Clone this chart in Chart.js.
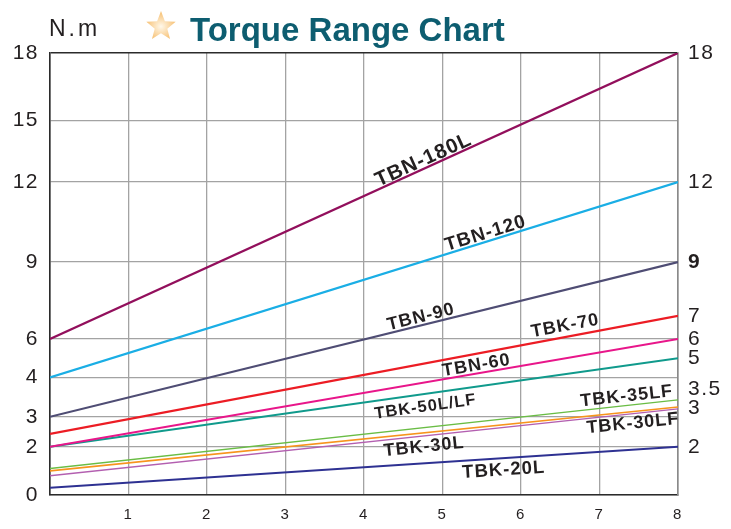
<!DOCTYPE html>
<html>
<head>
<meta charset="utf-8">
<script src="https://cdn.jsdelivr.net/npm/chart.js@4.4.0/dist/chart.umd.min.js"></script>
<style>
html,body{margin:0;padding:0;background:#fff;}
#wrap{position:relative;width:731px;height:529px;}
#unit{position:absolute;left:49px;top:17px;font:23px "Liberation Sans",Arial,sans-serif;letter-spacing:3px;color:#231f20;line-height:1;}
#star{position:absolute;left:144px;top:10px;}
#title{position:absolute;left:190px;top:13px;font:bold 33px "Liberation Sans",Arial,sans-serif;color:#0d5d70;line-height:1;white-space:nowrap;}
</style>
</head>
<body>
<div id="wrap">
<canvas id="c" width="731" height="529"></canvas>
<div id="unit">N.m</div>
<svg id="star" width="34" height="32" viewBox="0 0 30 29">
  <defs>
    <radialGradient id="sg" cx="50%" cy="55%" r="55%">
      <stop offset="0" stop-color="#fff8ea"/>
      <stop offset="1" stop-color="#f6bd6c"/>
    </radialGradient>
  </defs>
  <polygon fill="url(#sg)" points="15,1 18.5,10.2 28.3,10.7 20.7,16.9 23.2,26.3 15,21 6.8,26.3 9.3,16.9 1.7,10.7 11.5,10.2"/>
</svg>
<div id="title">Torque Range Chart</div>
</div>
<script>
// data
const xRange = [0, 8];
const xTicks = [1, 2, 3, 4, 5, 6, 7, 8];
const leftTicks = [0, 2, 3, 4, 6, 9, 12, 15, 18];
const rightTicks = [2, 3.22, 3.7, 5, 6, 6.9, 9, 12, 18];
const rightTickLabels = ['2', '3', '3.5', '5', '6', '7', '9', '12', '18'];

const models = ['TBN-180L', 'TBN-120', 'TBN-90', 'TBK-70', 'TBN-60', 'TBK-50L/LF', 'TBK-35LF', 'TBK-30LF', 'TBK-30L', 'TBK-20L'];
const startTorque = [6, 4, 3, 2.43, 2, 2, 1.1, 1.0, 0.8, 0.3];
const endTorque = [18, 12, 9, 6.9, 6, 5, 3.43, 3.25, 3.2, 2];

const lineColors = ['#920f5c', '#1aaee5', '#4f4d74', '#ec1c24', '#e8168a', '#109a8c', '#6abd45', '#f7941d', '#b35fb0', '#2e3192'];
const lineWidths = [2.3, 2.1, 2.1, 2.1, 2.1, 2.1, 1.4, 1.6, 1.4, 2.1];

// where each name sits: x value along its line, offset from line (px, + = below), font size
const labelSpots = [
    {at: 4.8, off: -8, size: 20.5}, {at: 5.58, off: -8, size: 19}, {at: 4.75, off: -8, size: 18},
    {at: 6.59, off: -11, size: 18}, {at: 5.45, off: -8, size: 18}, {at: 4.76, off: 13, size: 16.5},
    {at: 7.36, off: -9, size: 18}, {at: 7.41, off: 12, size: 18}, {at: 4.75, off: 11, size: 18},
    {at: 5.77, off: 12, size: 18.5}
];

// the torque axis is not even: each step gets its own share of the height
const axisStops = [0, 2, 3, 4, 6, 9, 12, 15, 18];
const axisShare = [0, 0.109, 0.177, 0.266, 0.353, 0.527, 0.708, 0.848, 1];

function toShare(v) {
    if (v <= axisStops[0]) return 0;
    for (let i = 1; i < axisStops.length; i++) {
        if (v <= axisStops[i]) {
            const t = (v - axisStops[i-1]) / (axisStops[i] - axisStops[i-1]);
            return axisShare[i-1] + t * (axisShare[i] - axisShare[i-1]);
        }
    }
    return 1;
}
function fromShare(f) {
    for (let i = 1; i < axisShare.length; i++) {
        if (f <= axisShare[i]) {
            const t = (f - axisShare[i-1]) / (axisShare[i] - axisShare[i-1]);
            return axisStops[i-1] + t * (axisStops[i] - axisStops[i-1]);
        }
    }
    return axisStops[axisStops.length-1];
}

class StepScale extends Chart.LinearScale {
    getPixelForValue(value) {
        return this.bottom - toShare(value) * (this.bottom - this.top);
    }
    getValueForPixel(pixel) {
        return fromShare((this.bottom - pixel) / (this.bottom - this.top));
    }
}
StepScale.id = 'step';
StepScale.defaults = Chart.LinearScale.defaults;
Chart.register(StepScale);

const datasets = models.map((m, i) => ({
    label: m,
    data: [{x: xRange[0], y: startTorque[i]}, {x: xRange[1], y: endTorque[i]}],
    borderColor: lineColors[i],
    borderWidth: lineWidths[i],
    pointRadius: 0,
    fill: false,
    yAxisID: 'y'
}));

// wider tracking for the axis numbers, like the print
const spacingPlugin = {
    id: 'spacing',
    beforeDraw(chart) { chart.ctx.letterSpacing = '1.5px'; },
    afterDraw(chart) { chart.ctx.letterSpacing = '0px'; }
};

const labelPlugin = {
    id: 'lineLabels',
    afterDatasetsDraw(chart) {
        const ctx = chart.ctx;
        const xs = chart.scales.x, ys = chart.scales.y;
        ctx.save();
        ctx.letterSpacing = '1px';
        ctx.fillStyle = '#231f20';
        ctx.textAlign = 'center';
        ctx.textBaseline = 'middle';
        chart.data.datasets.forEach((ds, i) => {
            const s = labelSpots[i];
            const x0 = xs.getPixelForValue(ds.data[0].x), y0 = ys.getPixelForValue(ds.data[0].y);
            const x1 = xs.getPixelForValue(ds.data[1].x), y1 = ys.getPixelForValue(ds.data[1].y);
            const px = xs.getPixelForValue(s.at);
            const py = y0 + (px - x0) / (x1 - x0) * (y1 - y0);
            ctx.font = 'bold ' + s.size + 'px "Liberation Sans", Arial, sans-serif';
            ctx.save();
            ctx.translate(px, py);
            ctx.rotate(Math.atan2(y1 - y0, x1 - x0));
            ctx.fillText(ds.label, 0, s.off);
            ctx.restore();
        });
        ctx.restore();
    }
};

const fam = '"Liberation Sans", Arial, sans-serif';

new Chart(document.getElementById('c'), {
    type: 'line',
    data: {datasets: datasets},
    options: {
        responsive: false,
        animation: false,
        events: [],
        layout: {padding: {top: 53, left: 0, right: 0, bottom: 0}},
        plugins: {legend: {display: false}, tooltip: {enabled: false}},
        scales: {
            x: {
                type: 'linear',
                min: xRange[0], max: xRange[1],
                afterBuildTicks: s => { s.ticks = [0].concat(xTicks).map(v => ({value: v})); },
                afterFit: s => { s.height = 34; },
                ticks: {
                    autoSkip: false, padding: 11, color: '#231f20',
                    font: {family: fam, size: 15},
                    callback: v => v === 0 ? '' : String(v)
                },
                grid: {color: '#a3a3a3', lineWidth: 1.3, drawTicks: false},
                border: {color: '#2b2b2b', width: 1.6}
            },
            y: {
                type: 'step',
                position: 'left',
                min: 0, max: 18,
                afterBuildTicks: s => { s.ticks = leftTicks.map(v => ({value: v})); },
                afterFit: s => { s.width = 50; },
                ticks: {autoSkip: false, padding: 11, color: '#231f20', font: {family: fam, size: 21}, callback: v => String(v)},
                grid: {
                    drawTicks: false,
                    color: c => c.tick && c.tick.value === 18 ? '#2b2b2b' : '#a3a3a3',
                    lineWidth: c => c.tick && c.tick.value === 18 ? 1.6 : 1.3
                },
                border: {color: '#2b2b2b', width: 1.6}
            },
            yr: {
                type: 'step',
                position: 'right',
                min: 0, max: 18,
                afterBuildTicks: s => { s.ticks = rightTicks.map(v => ({value: v})); },
                afterFit: s => { s.width = 53; },
                ticks: {
                    autoSkip: false, padding: 10, color: '#231f20',
                    font: c => ({family: fam, size: 21, weight: c.tick && c.tick.value === 9 ? 'bold' : 'normal'}),
                    callback: (v, i) => rightTickLabels[i]
                },
                grid: {display: false, drawTicks: false},
                border: {color: '#8a8a8a', width: 1.6}
            }
        }
    },
    plugins: [spacingPlugin, labelPlugin]
});
</script>
</body>
</html>
